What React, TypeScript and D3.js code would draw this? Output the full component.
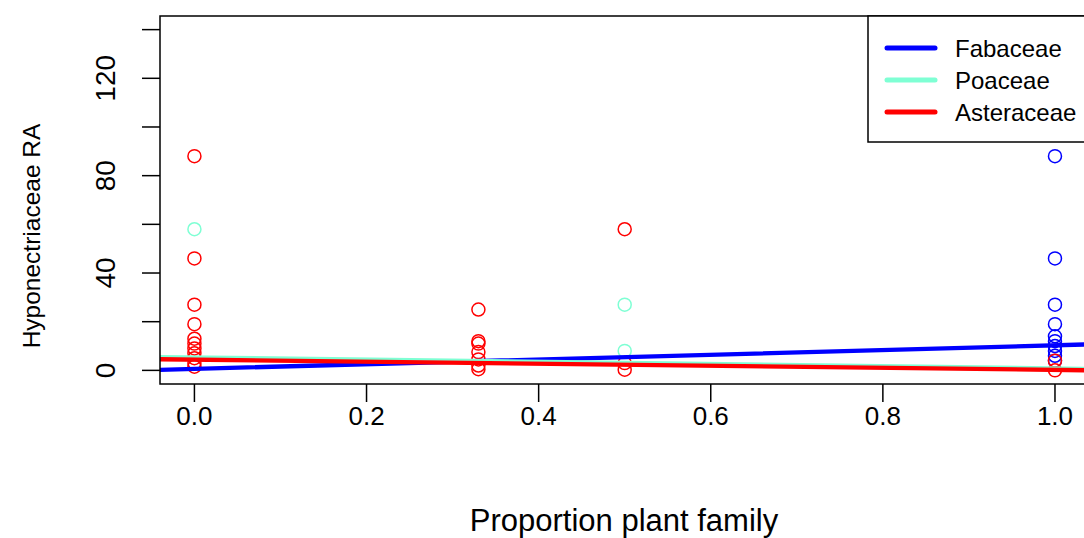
import React from "react";
import * as d3 from "d3";

// ---- data ----
const fabaceaeProp = [1, 1, 1, 1, 1, 1, 1, 1, 1, 1];
const fabaceaeRA = [88, 46, 27, 19, 14, 12, 10, 8, 6, 4];

const poaceaeProp = [0, 0.5, 0.5];
const poaceaeRA = [58, 27, 8];

const asteraceaeProp = [0, 0, 0, 0, 0, 0, 0, 0, 0, 0, 0, 0.33, 0.33, 0.33, 0.33, 0.33, 0.33, 0.33, 0.5, 0.5, 0.5, 1, 1];
const asteraceaeRA = [88, 46, 27, 19, 13, 11, 9, 7, 5, 3, 1.5, 25, 12, 11, 7.5, 4.5, 2, 0.5, 58, 3, 0.3, 4, 0];

// fitted lines: intercept, slope
const families = ["Fabaceae", "Poaceae", "Asteraceae"];
const colors = ["#0000FF", "#7FFFD4", "#FF0000"];
const intercepts = [0.6, 5.3, 4.4];
const slopes = [9.7, -4.5, -4.2];

const xTicks = [0, 0.2, 0.4, 0.6, 0.8, 1.0];
const yTicks = [0, 20, 40, 60, 80, 100, 120, 140];
const yTickLabels = [0, 40, 80, 120];

const W = 1084;
const H = 538;
const left = 160;
const top = 16;
const bottom = 384;
const right = 1089.4;

export default function App() {
  const x = d3.scaleLinear().domain([-0.04, 1.04]).range([left, right]);
  const y = d3.scaleLinear().domain([-5.6, 145.6]).range([bottom, top]);
  const font = "'Liberation Sans', Arial, sans-serif";

  const series = [
    { xs: fabaceaeProp, ys: fabaceaeRA, color: colors[0] },
    { xs: poaceaeProp, ys: poaceaeRA, color: colors[1] },
    { xs: asteraceaeProp, ys: asteraceaeRA, color: colors[2] },
  ];

  return (
    <div style={{ position: "absolute", left: 0, top: 0 }}>
      <svg width={W} height={H} style={{ display: "block", background: "#fff" }}>
        <defs>
          <clipPath id="plotclip">
            <rect x={left} y={top} width={right - left} height={bottom - top} />
          </clipPath>
        </defs>
        <rect x={0} y={0} width={W} height={H} fill="#fff" />
        {/* points */}
        {series.map((s, si) =>
          s.xs.map((xv, i) => (
            <circle
              key={`p${si}-${i}`}
              cx={x(xv)}
              cy={y(s.ys[i])}
              r={6.5}
              fill="none"
              stroke={s.color}
              strokeWidth={1.5}
            />
          ))
        )}
        {/* regression lines */}
        <g clipPath="url(#plotclip)">
          {families.map((f, i) => {
            const xs = [-0.04, 1.04];
            const d = d3
              .line<number>()
              .x((v) => x(v))
              .y((v) => y(intercepts[i] + slopes[i] * v))(xs);
            return <path key={f} d={d || ""} stroke={colors[i]} strokeWidth={4.3} fill="none" strokeLinecap="round" />;
          })}
        </g>
        {/* box */}
        <rect x={left} y={top} width={right - left} height={bottom - top} fill="none" stroke="#000" strokeWidth={1.5} />
        {/* x axis */}
        {xTicks.map((t) => (
          <g key={`xt${t}`}>
            <line x1={x(t)} x2={x(t)} y1={bottom} y2={bottom + 18} stroke="#000" strokeWidth={1.5} />
            <text x={x(t)} y={424.5} textAnchor="middle" fontFamily={font} fontSize={26} fill="#000">
              {t.toFixed(1)}
            </text>
          </g>
        ))}
        {/* y axis */}
        {yTicks.map((t) => (
          <line key={`yt${t}`} x1={left - 18} x2={left} y1={y(t)} y2={y(t)} stroke="#000" strokeWidth={1.5} />
        ))}
        {yTickLabels.map((t) => (
          <text
            key={`yl${t}`}
            transform={`translate(${115},${y(t)}) rotate(-90)`}
            textAnchor="middle"
            fontFamily={font}
            fontSize={28}
            fill="#000"
          >
            {t}
          </text>
        ))}
        {/* axis titles */}
        <text x={624} y={531} textAnchor="middle" fontFamily={font} fontSize={31} fill="#000">
          Proportion plant family
        </text>
        <text transform={`translate(40,236) rotate(-90)`} textAnchor="middle" fontFamily={font} fontSize={24.5} fill="#000">
          Hyponectriaceae RA
        </text>
        {/* legend */}
        <rect x={868} y={top} width={240} height={126} fill="#fff" stroke="#000" strokeWidth={1.5} />
        {families.map((f, i) => (
          <g key={`lg${f}`}>
            <line x1={887} x2={935} y1={48 + i * 32} y2={48 + i * 32} stroke={colors[i]} strokeWidth={5} strokeLinecap="round" />
            <text x={955} y={48 + i * 32 + 8.5} fontFamily={font} fontSize={24} fill="#000">
              {f}
            </text>
          </g>
        ))}
      </svg>
    </div>
  );
}
